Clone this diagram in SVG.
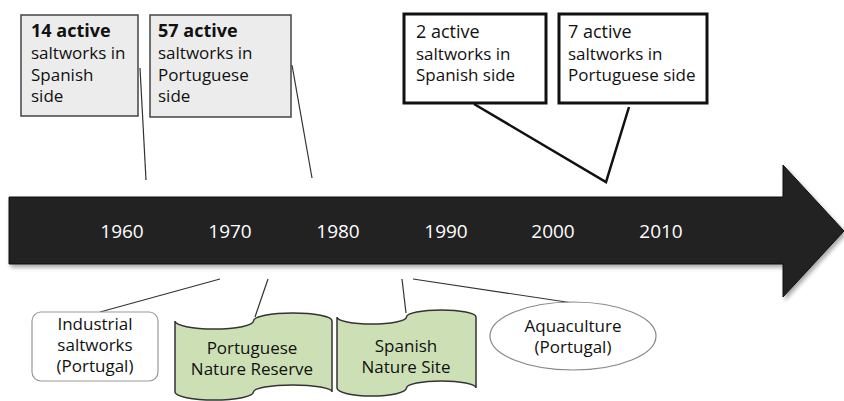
<svg xmlns="http://www.w3.org/2000/svg" width="844" height="401" viewBox="0 0 844 401">
  <defs>
    <filter id="sh" x="-5%" y="-10%" width="110%" height="130%">
      <feGaussianBlur in="SourceAlpha" stdDeviation="2"/>
      <feOffset dx="2" dy="3" result="b"/>
      <feComponentTransfer><feFuncA type="linear" slope="0.35"/></feComponentTransfer>
      <feMerge><feMergeNode/><feMergeNode in="SourceGraphic"/></feMerge>
    </filter>
  </defs>
  <style>
    text { font-family: "Open Sans", "DejaVu Sans", sans-serif; font-size: 17px; fill: #111; }
    .b { font-weight: bold; font-size: 18px; }
    .yr { fill: #fff; font-size: 19px; text-anchor: middle; }
    .c { text-anchor: middle; }
    .gray { fill: #ececec; stroke: #444; stroke-width: 1.5; }
    .bold { fill: #fff; stroke: #111; stroke-width: 3; }
    .green { fill: #cde0b5; stroke: #333; stroke-width: 1.5; }
    .thin { stroke: #333; stroke-width: 1.2; fill: none; }
    .thick { stroke: #111; stroke-width: 2.5; fill: none; }
  </style>
  <rect width="844" height="401" fill="#fff"/>

  <g id="timeline">
    <path d="M9,197 H783 V165 L844,231 L783,297 V264 H9 Z" fill="#222" stroke="#111" stroke-width="1" filter="url(#sh)"/>
    <text class="yr" x="122" y="238">1960</text>
    <text class="yr" x="230" y="238">1970</text>
    <text class="yr" x="338" y="238">1980</text>
    <text class="yr" x="446" y="238">1990</text>
    <text class="yr" x="553" y="238">2000</text>
    <text class="yr" x="661" y="238">2010</text>
  </g>

  <g id="connectors">
    <line class="thin" x1="140" y1="68" x2="146" y2="180"/>
    <line class="thin" x1="292" y1="65" x2="312" y2="178"/>
    <polyline class="thick" points="474,104 606,182 629,107"/>
    <line class="thin" x1="100" y1="312" x2="220" y2="279"/>
    <line class="thin" x1="255" y1="317" x2="268" y2="279"/>
    <line class="thin" x1="406" y1="313" x2="402" y2="279"/>
    <line class="thin" x1="413" y1="279" x2="573" y2="303"/>
  </g>

  <g id="spanish1960">
    <rect class="gray" x="21" y="15" width="117" height="101"/>
    <text class="b" x="31" y="37">14 active</text>
    <text x="31" y="59">saltworks in</text>
    <text x="31" y="81">Spanish</text>
    <text x="31" y="102">side</text>
  </g>

  <g id="portuguese1970">
    <rect class="gray" x="150" y="15" width="141" height="102"/>
    <text class="b" x="158" y="37">57 active</text>
    <text x="158" y="59">saltworks in</text>
    <text x="158" y="81">Portuguese</text>
    <text x="158" y="102">side</text>
  </g>

  <g id="spanish2000">
    <rect class="bold" x="404" y="14" width="142" height="89"/>
    <text x="416" y="38" style="font-size:18px">2 active</text>
    <text x="416" y="60">saltworks in</text>
    <text x="416" y="81">Spanish side</text>
  </g>

  <g id="portuguese2000">
    <rect class="bold" x="559" y="14" width="148" height="89"/>
    <text x="568" y="38" style="font-size:18px">7 active</text>
    <text x="568" y="60">saltworks in</text>
    <text x="568" y="81">Portuguese side</text>
  </g>

  <g id="industrial">
    <rect x="32" y="312" width="126" height="69" rx="9" fill="#fff" stroke="#999" stroke-width="1.2"/>
    <text class="c" x="95" y="330">Industrial</text>
    <text class="c" x="95" y="351">saltworks</text>
    <text class="c" x="95" y="372">(Portugal)</text>
  </g>

  <g id="ptReserve">
    <path class="green" d="M175,321 A39.25,8 0 0 0 253.5,321 A39.25,8 0 0 1 332,321 V392 A39.25,7 0 0 0 253.5,392 A39.25,8 0 0 1 175,392 Z"/>
    <text class="c" x="252" y="354">Portuguese</text>
    <text class="c" x="252" y="375">Nature Reserve</text>
  </g>

  <g id="esSite">
    <path class="green" d="M337,317 A34.75,7 0 0 0 406.5,317 A34.75,7 0 0 1 476,317 V388 A34.75,7 0 0 0 406.5,388 A34.75,8 0 0 1 337,388 Z"/>
    <text class="c" x="406" y="352">Spanish</text>
    <text class="c" x="406" y="373">Nature Site</text>
  </g>

  <g id="aquaculture">
    <ellipse cx="573" cy="336" rx="83" ry="34" fill="#fff" stroke="#888" stroke-width="1.2"/>
    <text class="c" x="573" y="332">Aquaculture</text>
    <text class="c" x="573" y="353">(Portugal)</text>
  </g>
</svg>
